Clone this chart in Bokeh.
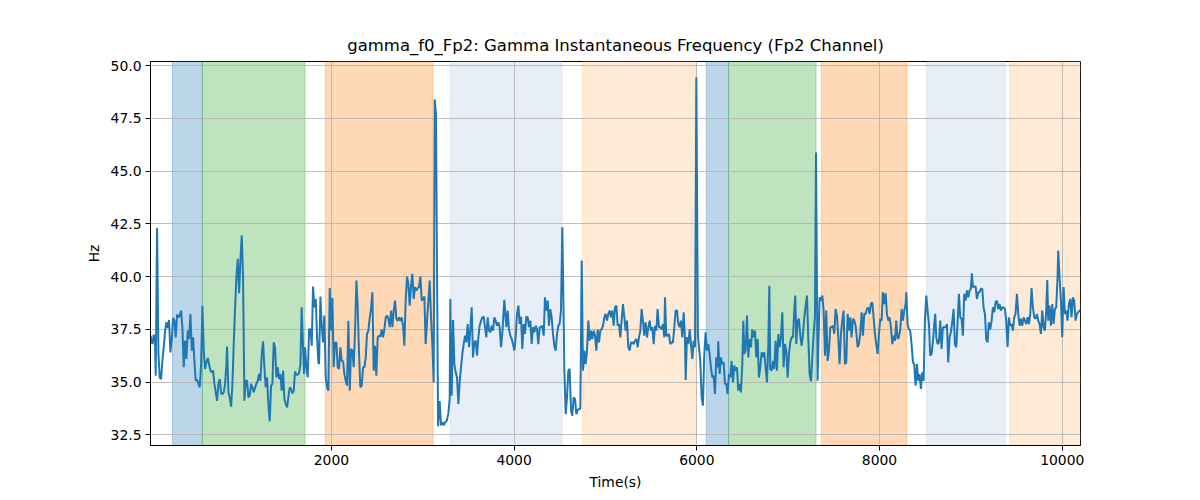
from bokeh.plotting import figure
from bokeh.models import Range1d, FixedTicker, NumeralTickFormatter, BoxAnnotation
from bokeh.embed import file_html
from bokeh.resources import INLINE

# ---- data -------------------------------------------------------------
time_s = [
    20, 41, 56, 70, 77, 92, 107, 121, 136, 150, 165, 180, 194, 209, 223, 238, 253, 267, 282, 296,
    311, 326, 340, 355, 369, 384, 398, 413, 428, 442, 457, 472, 486, 501, 515, 530, 545, 559, 574, 588,
    603, 617, 632, 647, 661, 676, 690, 705, 720, 734, 749, 763, 778, 793, 807, 822, 836, 851, 858, 873,
    887, 902, 917, 931, 946, 960, 975, 990, 1004, 1019, 1033, 1048, 1062, 1077, 1092, 1106, 1121, 1135, 1150, 1165,
    1179, 1194, 1208, 1223, 1238, 1252, 1267, 1281, 1296,
    1310, 1325, 1340, 1354, 1369, 1383, 1398, 1413, 1427, 1442, 1456, 1471, 1486, 1500, 1515, 1529, 1544, 1559, 1573, 1588,
    1602, 1617, 1631, 1646, 1661, 1675, 1690, 1701, 1712, 1726, 1741, 1756, 1770, 1785, 1799, 1814, 1829, 1843, 1858, 1865,
    1880, 1894, 1909, 1923, 1938, 1953, 1967, 1982, 1996, 2011, 2025, 2040, 2055, 2069, 2084, 2098, 2113, 2128, 2142, 2157,
    2171, 2186, 2201, 2215, 2230, 2244, 2259, 2274, 2288, 2303, 2317, 2332, 2347, 2361, 2376, 2390, 2405, 2420, 2434, 2449,
    2463, 2478, 2492, 2507, 2522, 2536, 2551, 2566, 2580,
    2595, 2609, 2624, 2638, 2653, 2668, 2682, 2697, 2711, 2726, 2741, 2755, 2770, 2784, 2799, 2813, 2828, 2843, 2857, 2872,
    2886, 2901, 2916, 2930, 2945, 2959, 2974, 2989, 3003, 3018, 3032, 3047, 3062, 3076, 3091, 3105, 3120, 3131, 3145, 3168,
    3185, 3200, 3215, 3230, 3245, 3262, 3280, 3295, 3302, 3317, 3332, 3346, 3361, 3375, 3390, 3404, 3419, 3434, 3448, 3463,
    3477, 3492, 3507, 3521, 3536, 3550, 3565, 3580, 3594, 3609, 3623, 3638, 3653, 3667, 3682, 3696, 3711, 3725, 3740, 3755,
    3769, 3784, 3798, 3813, 3828, 3842, 3857, 3871, 3893, 3915,
    3930, 3944, 3959, 3974, 3988, 4003, 4017, 4032, 4047, 4061, 4076, 4090, 4105, 4119, 4134, 4149, 4163, 4178, 4192, 4207,
    4222, 4236, 4251, 4265, 4280, 4295, 4309, 4324, 4338, 4353, 4368, 4382, 4397, 4411, 4426, 4440, 4455, 4470, 4484, 4499,
    4513, 4528, 4543, 4550, 4565, 4579, 4594, 4608, 4623, 4637, 4652, 4667, 4681, 4696, 4710, 4725, 4740, 4754, 4769, 4783,
    4798, 4813, 4827, 4842, 4856, 4871, 4886, 4900, 4915, 4929, 4944, 4958, 4973, 4988, 5002, 5017, 5032, 5046, 5061, 5075,
    5090, 5104, 5119, 5134, 5148, 5163,
    5177, 5192, 5207, 5221, 5236, 5250, 5265, 5280, 5294, 5309, 5323, 5338, 5353, 5367, 5382, 5396, 5411, 5425, 5440, 5455,
    5469, 5484, 5498, 5513, 5528, 5542, 5557, 5571, 5586, 5601, 5615, 5630, 5644, 5652, 5666, 5681, 5695, 5710, 5725, 5739,
    5754, 5768, 5783, 5798, 5812, 5827, 5841, 5856, 5870, 5878, 5892, 5907, 5922, 5936, 5951, 5965, 5980, 5995, 6012, 6038,
    6053, 6067, 6082, 6097, 6111, 6126, 6140, 6155, 6170, 6184, 6199, 6213, 6228, 6235, 6250, 6264, 6279, 6294, 6308, 6323,
    6337, 6352, 6367, 6381, 6396, 6410, 6425, 6440, 6454,
    6469, 6483, 6498, 6509, 6520, 6534, 6549, 6564, 6578, 6593, 6607, 6622, 6637, 6651, 6666, 6680, 6695, 6710, 6724, 6739,
    6753, 6768, 6783, 6794, 6804, 6819, 6834, 6848, 6863, 6877, 6892, 6907, 6921, 6936, 6950, 6965, 6980, 6994, 7009, 7023,
    7038, 7053, 7067, 7078, 7089, 7104, 7118, 7133, 7148, 7162, 7177, 7191, 7206, 7220, 7235, 7250, 7264, 7279, 7293, 7305,
    7322, 7344, 7359, 7374, 7388, 7403, 7417, 7432, 7447, 7461, 7476, 7490, 7505, 7519, 7534, 7549, 7563, 7578, 7592, 7607,
    7621, 7636, 7651, 7665, 7680, 7694, 7709, 7724, 7738, 7753,
    7760, 7775, 7789, 7804, 7819, 7833, 7848, 7862, 7877, 7891, 7906, 7921, 7935, 7950, 7964, 7979, 7994, 8008, 8023, 8037,
    8052, 8067, 8081, 8096, 8110, 8125, 8140, 8154, 8169, 8183, 8198, 8212, 8227, 8242, 8256, 8271, 8286, 8293, 8307, 8322,
    8336, 8351, 8366, 8380, 8395, 8410, 8424, 8439, 8453, 8468, 8483, 8497, 8512, 8526, 8541, 8555, 8570, 8585, 8599, 8610,
    8621, 8636, 8650, 8665, 8679, 8694, 8709, 8723, 8738, 8752, 8767, 8781, 8796, 8811, 8825, 8840, 8855, 8869, 8884, 8898,
    8913, 8927, 8942, 8957, 8971, 8986, 9000, 9011, 9022,
    9037, 9052, 9066, 9081, 9095, 9110, 9125, 9139, 9154, 9168, 9183, 9197, 9212, 9227, 9241, 9256, 9270, 9285, 9300, 9314,
    9329, 9343, 9358, 9373, 9387, 9402, 9416, 9431, 9446, 9460, 9475, 9489, 9504, 9519, 9533, 9548, 9562, 9577, 9592, 9606,
    9621, 9635, 9650, 9664, 9679, 9694, 9708, 9723, 9737, 9752, 9767, 9781, 9796, 9810, 9825, 9836, 9847, 9861, 9876, 9891,
    9905, 9920, 9934, 9949, 9956, 9971, 9986, 10000, 10015, 10029, 10044, 10058, 10073, 10088, 10102, 10117, 10131, 10146, 10161, 10175,
    10190, 10200,
]

gamma_hz = [
    37.2, 36.8, 37.25, 36.8, 35.3, 42.3, 36.33, 35.22, 35.14, 36.0, 36.65, 37.44, 37.83, 37.56, 37.94, 36.4, 37.04, 38.04, 37.9, 37.12,
    38.2, 38.07, 38.15, 38.39, 37.6, 35.7, 36.96, 36.1, 37.44, 37.04, 38.23, 36.49, 37.12, 36.0, 35.06, 35.1, 34.91, 34.75, 35.85, 38.62,
    36.49, 35.62, 35.93, 36.14, 35.85, 35.54, 35.46, 35.54, 34.91, 34.51, 34.11, 34.91, 35.14, 34.46, 34.43, 34.51, 34.91, 35.85, 36.68, 34.51,
    34.27, 33.83, 34.91, 36.8, 38.54, 39.97, 40.84, 39.21, 40.76, 41.95, 39.97, 34.11, 35.06, 35.06, 34.27, 34.35, 34.91, 34.75, 34.51, 34.75,
    34.91, 35.06, 35.38, 35.06, 36.33, 36.93, 35.7, 34.75, 35.22,
    33.96, 33.13, 34.83, 34.91, 36.88, 36.65, 35.22, 35.7, 35.14, 35.38, 34.59, 35.54, 34.19, 33.96, 33.8, 34.27, 34.75, 34.67, 34.46, 34.59,
    35.5, 35.35, 35.35, 35.41, 35.85, 38.54, 36.65, 35.38, 36.65, 35.7, 35.22, 37.5, 37.5, 36.72, 39.53, 38.54, 38.94, 37.12, 35.93, 35.85,
    39.05, 37.67, 36.88, 38.15, 35.22, 34.75, 34.59, 39.46, 37.44, 38.99, 35.7, 36.88, 36.88, 35.7, 35.62, 36.65, 36.0, 35.98, 35.38, 35.06,
    34.83, 37.91, 34.59, 36.57, 36.49, 35.7, 37.44, 39.81, 38.54, 36.33, 34.75, 34.83, 35.7, 35.7, 36.17, 37.28, 37.44, 38.07, 38.46, 39.26,
    35.54, 36.72, 35.3, 37.12, 37.2, 37.15, 37.5, 37.12, 37.5,
    38.07, 38.15, 38.0, 37.6, 38.39, 37.6, 38.39, 38.86, 38.0, 37.9, 38.07, 37.9, 38.07, 37.67, 36.72, 38.86, 40.0, 39.65, 38.62, 39.57,
    40.13, 38.94, 39.5, 39.34, 39.46, 39.5, 40.0, 38.86, 38.94, 39.05, 36.8, 37.9, 38.86, 39.81, 38.07, 36.8, 34.98, 48.4, 47.7, 32.9,
    34.1, 32.95, 33.1, 32.95, 33.1, 33.15, 33.5, 34.2, 38.94, 34.35, 37.94, 35.85, 35.46, 35.22, 33.96, 34.98, 35.7, 36.33, 36.8, 37.2,
    36.88, 37.75, 36.65, 37.5, 38.54, 36.17, 36.88, 36.96, 36.25, 37.12, 37.67, 37.91, 38.07, 38.1, 37.6, 37.12, 38.07, 37.44, 37.36, 37.67,
    37.44, 38.07, 37.91, 37.67, 37.83, 37.6, 36.65, 37.3, 38.9, 37.6,
    38.39, 37.5, 37.2, 37.04, 36.8, 36.49, 37.12, 38.23, 38.62, 37.75, 38.1, 36.57, 37.75, 37.28, 38.1, 38.07, 37.6, 37.91, 36.8, 37.6,
    37.36, 37.67, 37.5, 36.8, 37.6, 37.6, 37.67, 37.2, 39.02, 38.39, 38.86, 37.67, 38.46, 38.07, 37.28, 36.72, 36.49, 37.28, 37.67, 37.78,
    38.39, 42.34, 37.91, 35.54, 33.48, 34.27, 35.54, 35.62, 33.64, 33.4, 34.27, 34.19, 33.48, 33.67, 33.72, 33.72, 40.76, 35.54, 36.49, 35.85,
    36.49, 37.91, 36.96, 37.44, 37.04, 37.44, 37.2, 36.49, 37.5, 36.88, 37.44, 37.5, 37.67, 38.07, 38.23, 37.91, 38.23, 38.39, 38.07, 38.39,
    37.67, 38.54, 38.62, 37.67, 37.75, 37.12,
    37.91, 38.7, 38.07, 37.44, 37.91, 36.65, 36.49, 36.88, 36.88, 36.8, 36.96, 37.04, 36.65, 37.12, 37.44, 38.46, 37.91, 37.2, 37.83, 37.12,
    37.6, 37.91, 37.44, 37.6, 36.8, 37.67, 37.44, 38.46, 37.6, 37.6, 37.5, 37.75, 37.12, 39.02, 37.2, 37.2, 37.28, 36.8, 36.88, 36.88,
    37.6, 38.39, 38.39, 37.75, 37.6, 37.91, 37.12, 38.31, 37.12, 35.1, 37.12, 36.8, 37.5, 36.8, 36.1, 36.96, 36.65, 49.45, 37.2, 36.0,
    34.27, 33.88, 36.33, 37.36, 36.49, 36.8, 36.33, 35.7, 35.22, 35.3, 34.43, 36.17, 35.7, 36.93, 35.38, 36.17, 35.85, 35.93, 34.91, 34.91,
    34.43, 35.38, 35.22, 36.0, 34.98, 35.78, 35.54, 35.7, 34.59,
    34.91, 34.51, 35.85, 37.91, 36.33, 36.49, 38.15, 36.17, 37.04, 36.65, 37.5, 37.12, 37.44, 36.17, 37.04, 35.22, 35.7, 36.41, 36.17, 36.41,
    35.7, 34.98, 36.8, 39.57, 35.62, 35.54, 36.0, 35.62, 36.96, 35.54, 37.28, 36.65, 37.12, 38.31, 35.7, 36.8, 36.49, 35.22, 36.33, 36.88,
    37.12, 37.12, 38.39, 39.1, 36.8, 37.91, 38.0, 37.2, 36.72, 37.28, 38.07, 38.62, 39.1, 37.12, 35.38, 35.03, 36.17, 37.28, 38.07, 45.89,
    35.06, 39.02, 38.86, 39.1, 38.39, 36.25, 38.39, 36.0, 36.49, 37.6, 37.6, 37.67, 37.28, 38.46, 38.15, 37.12, 35.85, 37.28, 37.91, 38.39,
    35.85, 35.93, 38.23, 37.44, 38.07, 37.12, 38.0, 37.91, 37.67, 37.04,
    36.65, 36.8, 37.28, 38.31, 37.2, 38.23, 38.23, 38.46, 38.54, 38.23, 38.7, 38.78, 38.07, 37.28, 36.8, 36.33, 37.28, 38.0, 37.91, 39.26,
    38.7, 39.21, 38.23, 37.91, 38.07, 37.6, 36.8, 37.2, 36.96, 37.91, 37.04, 37.12, 37.5, 38.46, 37.91, 38.39, 38.7, 39.26, 37.75, 37.5,
    37.44, 36.8, 35.93, 35.85, 34.83, 35.85, 35.06, 35.38, 34.67, 35.46, 35.06, 37.91, 39.1, 38.39, 37.75, 36.25, 36.33, 36.96, 37.75, 38.23,
    37.12, 36.8, 36.88, 37.91, 36.57, 37.6, 37.6, 37.6, 37.75, 35.93, 37.12, 37.36, 37.83, 38.46, 36.8, 36.65, 37.83, 39.18, 38.07, 38.0,
    37.2, 39.18, 38.86, 39.34, 39.02, 39.34, 39.42, 40.16, 39.5,
    39.53, 39.53, 38.94, 39.26, 39.26, 39.42, 39.42, 38.54, 38.23, 37.04, 36.88, 37.83, 37.5, 37.91, 38.54, 38.31, 38.78, 38.86, 38.46, 38.7,
    38.39, 38.54, 38.54, 38.46, 37.91, 36.65, 38.07, 37.67, 37.75, 37.44, 38.07, 38.23, 39.18, 38.23, 37.67, 38.0, 37.67, 38.07, 37.91, 37.75,
    38.07, 37.75, 38.23, 39.46, 38.54, 38.07, 38.0, 38.23, 37.91, 37.75, 37.28, 38.39, 37.6, 37.44, 38.39, 39.84, 37.91, 38.62, 37.67, 38.7,
    37.75, 38.46, 38.54, 39.97, 41.23, 39.97, 38.86, 37.12, 39.5, 38.23, 38.39, 37.91, 38.7, 38.94, 38.07, 39.02, 38.86, 37.91, 38.23, 38.31,
    38.39, 38.4,
]

# shaded segments (start, end, category)
seg_start = [260, 588, 1934, 3302, 4747, 6104, 6348, 7363, 8512, 9424]
seg_end = [588, 1712, 3113, 4525, 5995, 6348, 7305, 8300, 9377, 10260]
seg_kind = ["A", "B", "C", "D", "E", "A", "B", "C", "D", "E"]

x_ticks = [2000, 4000, 6000, 8000, 10000]
y_ticks = [32.5, 35.0, 37.5, 40.0, 42.5, 45.0, 47.5, 50.0]

# ---- style ------------------------------------------------------------
kind_color = {"A": "#1f77b4", "B": "#2ca02c", "C": "#ff7f0e", "D": "#aec7e8", "E": "#ffbb78"}
FONT = "DejaVu Sans"

p = figure(
    width=1200, height=500,
    output_backend="svg", toolbar_location=None,
    x_range=Range1d(20, 10200), y_range=Range1d(31.99, 50.2),
    title="gamma_f0_Fp2: Gamma Instantaneous Frequency (Fp2 Channel)",
    min_border_left=150, min_border_right=120, min_border_top=61, min_border_bottom=55,
)
p.background_fill_color = "white"
p.border_fill_color = "white"
p.outline_line_color = "black"
p.outline_line_width = 1

p.title.align = "center"
p.title.text_font = FONT
p.title.text_font_size = "16.5px"
p.title.text_font_style = "normal"
p.title.text_color = "black"
p.title.standoff = 13

for s, e, k in zip(seg_start, seg_end, seg_kind):
    c = kind_color[k]
    p.add_layout(BoxAnnotation(left=s, right=e, fill_color=c, fill_alpha=0.3,
                               line_color=c, line_alpha=0.3, line_width=1, level="image"))

p.line(time_s, gamma_hz, line_color="#1f77b4", line_width=2)

p.xaxis.ticker = FixedTicker(ticks=x_ticks)
p.yaxis.ticker = FixedTicker(ticks=y_ticks)
p.xaxis.formatter = NumeralTickFormatter(format="0")
p.yaxis.formatter = NumeralTickFormatter(format="0.0")
p.xaxis.axis_label = "Time(s)"
p.yaxis.axis_label = "Hz"

for ax in (p.xaxis, p.yaxis):
    ax.axis_line_color = "black"
    ax.axis_line_width = 1
    ax.major_tick_line_color = "black"
    ax.major_tick_out = 5
    ax.major_tick_in = 0
    ax.minor_tick_line_color = None
    ax.major_label_text_font = FONT
    ax.major_label_text_font_size = "13.9px"
    ax.major_label_text_color = "black"
    ax.axis_label_text_font = FONT
    ax.axis_label_text_font_size = "13.9px"
    ax.axis_label_text_font_style = "normal"
    ax.axis_label_text_color = "black"
    ax.major_label_standoff = 4
    ax.axis_label_standoff = 6

p.grid.grid_line_color = "#b0b0b0"
p.grid.grid_line_width = 0.8

open("out.html", "w").write(file_html(p, INLINE))
